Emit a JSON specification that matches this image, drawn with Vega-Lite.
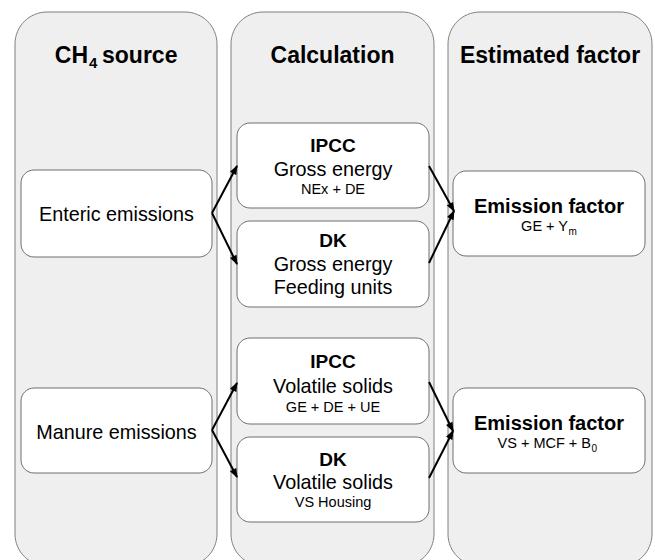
{
  "$schema": "https://vega.github.io/schema/vega-lite/v6.json",
  "width": 655,
  "height": 560,
  "autosize": {"type": "none"},
  "padding": 0,
  "background": "white",
  "config": {"view": {"stroke": null}, "font": "Liberation Sans"},
  "datasets": {
    "columns": [
      {"x": 15, "x2": 217, "y": 12, "y2": 566},
      {"x": 231, "x2": 434, "y": 12, "y2": 566},
      {"x": 448, "x2": 652, "y": 12, "y2": 566}
    ],
    "boxes": [
      {"x": 21, "x2": 212, "y": 170, "y2": 257},
      {"x": 21, "x2": 212, "y": 388, "y2": 473},
      {"x": 237, "x2": 429, "y": 123, "y2": 208},
      {"x": 237, "x2": 429, "y": 221, "y2": 307},
      {"x": 237, "x2": 429, "y": 338, "y2": 424},
      {"x": 237, "x2": 429, "y": 437, "y2": 522},
      {"x": 453, "x2": 645, "y": 171, "y2": 256},
      {"x": 453, "x2": 645, "y": 388, "y2": 473}
    ],
    "arrows": [
      {"x": 212, "y": 213, "x2": 237, "y2": 166},
      {"x": 212, "y": 213, "x2": 237, "y2": 264},
      {"x": 429, "y": 166, "x2": 454, "y2": 211},
      {"x": 429, "y": 263, "x2": 454, "y2": 211},
      {"x": 212, "y": 430, "x2": 237, "y2": 383},
      {"x": 212, "y": 430, "x2": 237, "y2": 477},
      {"x": 429, "y": 382, "x2": 453, "y2": 431},
      {"x": 429, "y": 478, "x2": 453, "y2": 431}
    ],
    "labels": [
      {"kind": "header", "x": 332.5, "y": 63, "text": "Calculation"},
      {"kind": "header", "x": 550, "y": 63, "text": "Estimated factor"},
      {"kind": "headerR", "x": 88, "y": 63, "text": "CH"},
      {"kind": "headerSub", "x": 89, "y": 68, "text": "4"},
      {"kind": "headerL", "x": 102, "y": 63, "text": "source"},
      {"kind": "main", "x": 116.5, "y": 221, "text": "Enteric emissions"},
      {"kind": "main", "x": 116.5, "y": 439, "text": "Manure emissions"},
      {"kind": "main", "x": 333, "y": 176, "text": "Gross energy"},
      {"kind": "main", "x": 333, "y": 271, "text": "Gross energy"},
      {"kind": "main", "x": 333, "y": 294, "text": "Feeding units"},
      {"kind": "main", "x": 333, "y": 393, "text": "Volatile solids"},
      {"kind": "main", "x": 333, "y": 489, "text": "Volatile solids"},
      {"kind": "title", "x": 333, "y": 152, "text": "IPCC"},
      {"kind": "title", "x": 333, "y": 247, "text": "DK"},
      {"kind": "title", "x": 333, "y": 368, "text": "IPCC"},
      {"kind": "title", "x": 333, "y": 466, "text": "DK"},
      {"kind": "ef", "x": 549, "y": 213, "text": "Emission factor"},
      {"kind": "ef", "x": 549, "y": 430, "text": "Emission factor"},
      {"kind": "sub", "x": 333, "y": 194, "text": "NEx + DE"},
      {"kind": "sub", "x": 333, "y": 412, "text": "GE + DE + UE"},
      {"kind": "sub", "x": 333, "y": 507, "text": "VS Housing"},
      {"kind": "subR", "x": 568, "y": 231, "text": "GE + Y"},
      {"kind": "subSub", "x": 568.5, "y": 235, "text": "m"},
      {"kind": "subR", "x": 591, "y": 448, "text": "VS + MCF + B"},
      {"kind": "subSub", "x": 591.5, "y": 452, "text": "0"}
    ]
  },
  "encoding": {
    "x": {"field": "x", "type": "quantitative", "scale": {"domain": [0, 655], "nice": false, "zero": false}, "axis": null},
    "y": {"field": "y", "type": "quantitative", "scale": {"domain": [0, 560], "nice": false, "zero": false, "reverse": true}, "axis": null}
  },
  "layer": [
    {
      "data": {"name": "columns"},
      "mark": {"type": "rect", "cornerRadius": 32, "fill": "#efefef", "stroke": "#7f7f7f", "strokeWidth": 1},
      "encoding": {"x2": {"field": "x2"}, "y2": {"field": "y2"}}
    },
    {
      "data": {"name": "boxes"},
      "mark": {"type": "rect", "cornerRadius": 13, "fill": "white", "stroke": "#6f6f6f", "strokeWidth": 1},
      "encoding": {"x2": {"field": "x2"}, "y2": {"field": "y2"}}
    },
    {
      "data": {"name": "arrows"},
      "mark": {"type": "rule", "color": "black", "strokeWidth": 2},
      "encoding": {"x2": {"field": "x2"}, "y2": {"field": "y2"}}
    },
    {
      "data": {"name": "arrows"},
      "transform": [{"calculate": "atan2(datum.x2 - datum.x, datum.y - datum.y2) * 180 / PI", "as": "angle"}],
      "mark": {"type": "point", "shape": "M0,-0.25L-0.9,2.1L0.9,2.1Z", "size": 64, "filled": true, "color": "black", "opacity": 1, "strokeWidth": 0},
      "encoding": {
        "x": {"field": "x2", "type": "quantitative"},
        "y": {"field": "y2", "type": "quantitative"},
        "angle": {"field": "angle", "type": "quantitative", "scale": null}
      }
    },
    {
      "data": {"name": "labels"},
      "transform": [{"filter": "datum.kind == 'header'"}],
      "mark": {"type": "text", "font": "Liberation Sans", "fontSize": 23, "fontWeight": "bold", "align": "center", "baseline": "alphabetic", "color": "black"},
      "encoding": {"text": {"field": "text"}}
    },
    {
      "data": {"name": "labels"},
      "transform": [{"filter": "datum.kind == 'headerR'"}],
      "mark": {"type": "text", "font": "Liberation Sans", "fontSize": 23, "fontWeight": "bold", "align": "right", "baseline": "alphabetic", "color": "black"},
      "encoding": {"text": {"field": "text"}}
    },
    {
      "data": {"name": "labels"},
      "transform": [{"filter": "datum.kind == 'headerL'"}],
      "mark": {"type": "text", "font": "Liberation Sans", "fontSize": 23, "fontWeight": "bold", "align": "left", "baseline": "alphabetic", "color": "black"},
      "encoding": {"text": {"field": "text"}}
    },
    {
      "data": {"name": "labels"},
      "transform": [{"filter": "datum.kind == 'headerSub'"}],
      "mark": {"type": "text", "font": "Liberation Sans", "fontSize": 15, "fontWeight": "bold", "align": "left", "baseline": "alphabetic", "color": "black"},
      "encoding": {"text": {"field": "text"}}
    },
    {
      "data": {"name": "labels"},
      "transform": [{"filter": "datum.kind == 'main'"}],
      "mark": {"type": "text", "font": "Liberation Sans", "fontSize": 19.8, "align": "center", "baseline": "alphabetic", "color": "black"},
      "encoding": {"text": {"field": "text"}}
    },
    {
      "data": {"name": "labels"},
      "transform": [{"filter": "datum.kind == 'title'"}],
      "mark": {"type": "text", "font": "Liberation Sans", "fontSize": 19, "fontWeight": "bold", "align": "center", "baseline": "alphabetic", "color": "black"},
      "encoding": {"text": {"field": "text"}}
    },
    {
      "data": {"name": "labels"},
      "transform": [{"filter": "datum.kind == 'ef'"}],
      "mark": {"type": "text", "font": "Liberation Sans", "fontSize": 20, "fontWeight": "bold", "align": "center", "baseline": "alphabetic", "color": "black"},
      "encoding": {"text": {"field": "text"}}
    },
    {
      "data": {"name": "labels"},
      "transform": [{"filter": "datum.kind == 'sub'"}],
      "mark": {"type": "text", "font": "Liberation Sans", "fontSize": 14.5, "align": "center", "baseline": "alphabetic", "color": "black"},
      "encoding": {"text": {"field": "text"}}
    },
    {
      "data": {"name": "labels"},
      "transform": [{"filter": "datum.kind == 'subR'"}],
      "mark": {"type": "text", "font": "Liberation Sans", "fontSize": 14.5, "align": "right", "baseline": "alphabetic", "color": "black"},
      "encoding": {"text": {"field": "text"}}
    },
    {
      "data": {"name": "labels"},
      "transform": [{"filter": "datum.kind == 'subSub'"}],
      "mark": {"type": "text", "font": "Liberation Sans", "fontSize": 10, "align": "left", "baseline": "alphabetic", "color": "black"},
      "encoding": {"text": {"field": "text"}}
    }
  ]
}
